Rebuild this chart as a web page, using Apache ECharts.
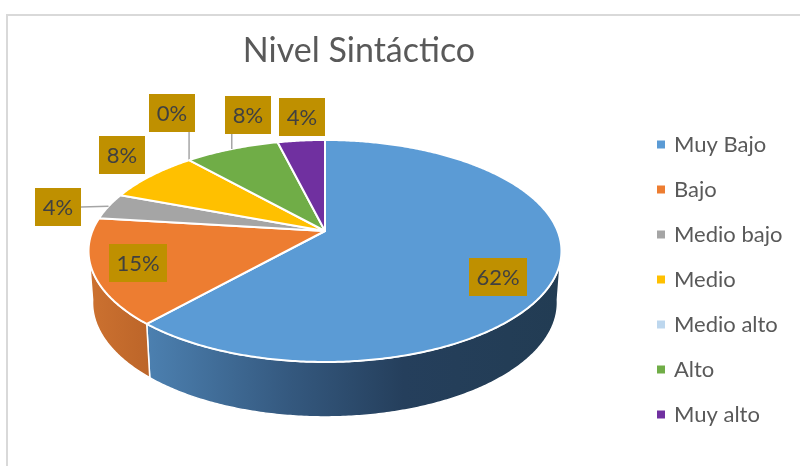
<!DOCTYPE html>
<html>
<head>
<meta charset="utf-8">
<style>
  html, body { margin: 0; padding: 0; background: #fff; }
  #pie3d { width: 800px; height: 466px; }
</style>
</head>
<body>
<div id="pie3d"></div>
<script src="https://cdn.jsdelivr.net/npm/echarts@6/dist/echarts.min.js"></script>
<script>
const categories = ['Muy Bajo', 'Bajo', 'Medio bajo', 'Medio', 'Medio alto', 'Alto', 'Muy alto'];
const counts = [16, 4, 1, 2, 0, 2, 1];
const colors = ['#5B9BD5', '#ED7D31', '#A5A5A5', '#FFC000', '#BDD7EE', '#70AD47', '#7030A0'];

// label boxes, left/top of each, plus the edge a leader line leaves from
const labelWidths = [58, 58, 46, 46, 46, 46, 46];
const labelLeft = [469, 109, 35, 99, 149, 225, 279];
const labelTop = [258, 244, 188, 136, 94, 96, 98];
const leaderSide = [null, null, 'right', null, 'bottom', 'bottom', null];

// perspective of the tilted disc
const apexX = 325, apexY = 231;
const scaleX = 232.6, scaleY = 107.4, tilt = 0.18;
const depth = 51, lowerScaleX = 0.983, lowerScaleY = 1.03;
const fontName = 'Lato, "Noto Sans", sans-serif';

const total = counts.reduce((a, b) => a + b, 0);

function project(angle, lower) {
  const u = Math.sin(angle), v = Math.cos(angle);
  const d = 1 + tilt * v;
  return [
    apexX + (lower ? lowerScaleX : 1) * scaleX * u / d,
    apexY - (lower ? lowerScaleY : 1) * scaleY * v / d + (lower ? depth : 0)
  ];
}

function arc(from, to, lower) {
  const pts = [];
  const steps = Math.max(2, Math.ceil((to - from) / 0.01));
  for (let i = 0; i <= steps; i++) {
    pts.push(project(from + (to - from) * i / steps, lower));
  }
  return pts;
}

function sideFill(index) {
  if (index === 0) {
    return new echarts.graphic.LinearGradient(147, 0, 561, 0, [
      { offset: 0, color: '#4C80B0' },
      { offset: 0.35, color: '#34587E' },
      { offset: 0.62, color: '#253F5C' },
      { offset: 1, color: '#223C53' }
    ], true);
  }
  return new echarts.graphic.LinearGradient(90, 0, 150, 0, [
    { offset: 0, color: '#CC7130' },
    { offset: 1, color: '#BC6529' }
  ], true);
}

function renderSlice(index) {
  return function (params, api) {
    const before = counts.slice(0, index).reduce((a, b) => a + b, 0);
    const value = api.value(0);
    const start = before / total * Math.PI * 2;
    const end = (before + value) / total * Math.PI * 2;
    const children = [];

    if (value > 0) {
      // only the front part of the wall can be seen
      const wallFrom = Math.max(start, Math.PI * 0.55);
      const wallTo = Math.min(end, Math.PI * 1.45);
      if (wallTo > wallFrom) {
        children.push({
          type: 'polygon',
          shape: { points: arc(wallFrom, wallTo, false).concat(arc(wallFrom, wallTo, true).reverse()) },
          style: { fill: sideFill(index), stroke: '#fff', lineWidth: 1.5 }
        });
      }
      children.push({
        type: 'polygon',
        shape: { points: [[apexX, apexY]].concat(arc(start, end, false)) },
        style: { fill: colors[index], stroke: '#fff', lineWidth: 2, lineJoin: 'round' }
      });
    }

    const boxX = labelLeft[index], boxY = labelTop[index], boxW = labelWidths[index], boxH = 38;
    if (leaderSide[index]) {
      const tip = project((start + end) / 2, false);
      const from = leaderSide[index] === 'right' ? [boxX + boxW, boxY + boxH / 2] : [tip[0], boxY + boxH];
      children.push({
        type: 'polyline',
        shape: { points: [from, tip] },
        style: { stroke: '#A5A5A5', lineWidth: 1.5, fill: 'none' }
      });
    }
    children.push({
      type: 'rect',
      shape: { x: boxX, y: boxY, width: boxW, height: boxH },
      style: { fill: '#BF9000' }
    });
    children.push({
      type: 'text',
      style: {
        x: boxX + boxW / 2,
        y: boxY + boxH / 2 + 1,
        text: Math.round(value / total * 100) + '%',
        align: 'center',
        verticalAlign: 'middle',
        fill: '#404040',
        font: '22px ' + fontName
      }
    });
    return { type: 'group', children: children };
  };
}

const option = {
  animation: false,
  backgroundColor: '#fff',
  title: {
    text: 'Nivel Sintáctico',
    left: 354,
    top: 29,
    textAlign: 'center',
    textStyle: { color: '#595959', fontSize: 34, fontWeight: 'normal', fontFamily: fontName }
  },
  legend: {
    orient: 'vertical',
    left: 652,
    top: 117,
    itemWidth: 8,
    itemHeight: 8,
    itemGap: 0,
    icon: 'rect',
    selectedMode: false,
    textStyle: { color: '#595959', fontSize: 22, lineHeight: 45, fontFamily: fontName, padding: [0, 0, 0, 4] },
    data: categories
  },
  graphic: [{
    type: 'polyline',
    shape: { points: [[7, 466], [7, 15], [800, 15]] },
    style: { stroke: '#D9D9D9', lineWidth: 2, fill: 'none' }
  }],
  series: categories.map((name, i) => ({
    type: 'custom',
    name: name,
    coordinateSystem: 'none',
    itemStyle: { color: colors[i] },
    data: [counts[i]],
    renderItem: renderSlice(i)
  }))
};

const myChart = echarts.init(document.getElementById('pie3d'));
myChart.setOption(option);
</script>
</body>
</html>
